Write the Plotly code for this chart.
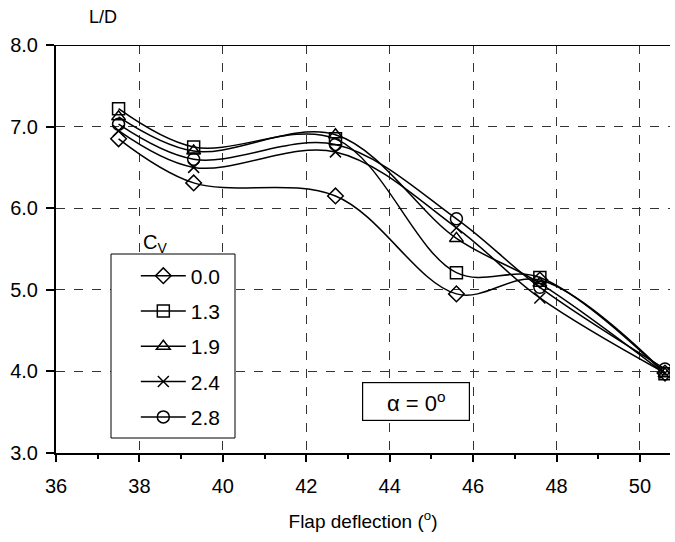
import plotly.graph_objects as go

x_vals = [37.5, 39.3, 42.7, 45.6, 47.6, 50.6]
cv_labels = ["0.0", "1.3", "1.9", "2.4", "2.8"]
ld_00 = [6.85, 6.31, 6.15, 4.95, 5.12, 3.98]
ld_13 = [7.22, 6.75, 6.85, 5.21, 5.15, 3.97]
ld_19 = [7.12, 6.70, 6.90, 5.63, 5.08, 3.97]
ld_24 = [6.95, 6.50, 6.69, 5.76, 4.90, 3.98]
ld_28 = [7.03, 6.60, 6.78, 5.87, 5.03, 4.03]
series = [ld_00, ld_13, ld_19, ld_24, ld_28]
symbols = ["diamond-open", "square-open", "triangle-up-open", "x-thin-open", "circle-open"]
sizes = [12, 12, 12, 11, 12]

x_ticks = [36, 38, 40, 42, 44, 46, 48, 50]
y_ticks = [3, 4, 5, 6, 7, 8]
y_ticklabels = ["3.0", "4.0", "5.0", "6.0", "7.0", "8.0"]

FONT = "Liberation Sans, Arial, sans-serif"

fig = go.Figure()
for i, (lab, ys) in enumerate(zip(cv_labels, series)):
    fig.add_trace(go.Scatter(
        x=x_vals, y=ys, name=lab, mode="lines+markers",
        line=dict(color="black", width=1.5, shape="spline", smoothing=1.0),
        marker=dict(symbol=symbols[i], size=sizes[i], color="black",
                    line=dict(color="black", width=1.5)),
        legendgroup="g%d" % i,
    ))

fig.update_layout(
    width=675, height=542,
    margin=dict(l=56, r=5, t=45, b=89),
    paper_bgcolor="white", plot_bgcolor="white",
    font=dict(family=FONT, size=19, color="black"),
    showlegend=True,
    legend=dict(
        x=0.13, y=0.484, xanchor="left", yanchor="top",
        bgcolor="rgba(0,0,0,0)", borderwidth=0,
        font=dict(family=FONT, size=21, color="black"),
        tracegroupgap=5, itemwidth=45,
    ),
    xaxis=dict(
        range=[36, 50.72], tickvals=x_ticks, ticktext=[str(v) for v in x_ticks],
        showline=True, linecolor="black", linewidth=2,
        ticks="outside", ticklen=7, tickwidth=1.5, tickcolor="black",
        ticklabelstandoff=7,
        minor=dict(dtick=1, tick0=36, ticks="outside", ticklen=4, tickcolor="black", showgrid=False),
        showgrid=True, gridcolor="#333", griddash="dash", gridwidth=1,
        zeroline=False,
        title=dict(text="Flap deflection (<sup>o</sup>)", standoff=19,
                   font=dict(family=FONT, size=19)),
        tickfont=dict(family=FONT, size=20),
    ),
    yaxis=dict(
        range=[3, 8], tickvals=y_ticks, ticktext=y_ticklabels,
        showline=True, linecolor="black", linewidth=2,
        ticks="outside", ticklen=8, tickwidth=1.5, tickcolor="black",
        ticklabelstandoff=4,
        showgrid=True, gridcolor="#333", griddash="dash", gridwidth=1,
        zeroline=False,
        tickfont=dict(family=FONT, size=20),
    ),
)

# top border line
fig.add_shape(type="line", xref="paper", yref="y", x0=0, x1=1, y0=8, y1=8,
              line=dict(color="black", width=2))
# legend frame (white filled, hides gridlines)
fig.add_shape(type="rect", xref="paper", yref="paper", layer="above",
              x0=(111 - 56) / 614, x1=(235 - 56) / 614,
              y0=1 - (438 - 45) / 408, y1=1 - (254 - 45) / 408,
              line=dict(color="black", width=1), fillcolor="white")

fig.add_annotation(text="C<sub>V</sub>", xref="paper", yref="paper",
                   x=(155 - 56) / 614, y=1 - (243 - 45) / 408,
                   xanchor="center", yanchor="middle",
                   showarrow=False, font=dict(family=FONT, size=20))
fig.add_annotation(text="L/D", xref="paper", yref="paper",
                   x=(103 - 56) / 614, y=1 + (45 - 17) / 408,
                   xanchor="center", yanchor="middle",
                   showarrow=False, font=dict(family=FONT, size=18))
fig.add_annotation(text="α = 0<sup>o</sup>", xref="paper", yref="paper",
                   x=(416 - 56) / 614, y=1 - (401 - 45) / 408,
                   xanchor="center", yanchor="middle",
                   showarrow=False, font=dict(family=FONT, size=22),
                   bordercolor="black", borderwidth=1.2, borderpad=3,
                   width=100, height=31, bgcolor="white")

fig.write_html("out.html")
